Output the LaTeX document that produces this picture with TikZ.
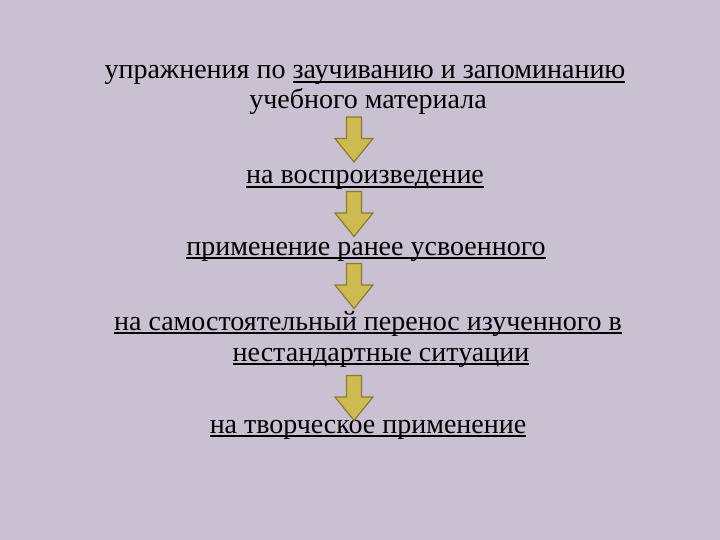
\documentclass[tikz,border=0pt]{standalone}
\usepackage{fontspec}
\setmainfont{Liberation Serif}
\definecolor{bg}{RGB}{201,193,210}
\definecolor{arrowfill}{RGB}{205,187,82}
\definecolor{arrowline}{RGB}{140,124,48}
\newcommand\myul[1]{\setbox0\hbox{#1}\rlap{\rule[-4.2pt]{\wd0}{1.8pt}}\box0}
\tikzset{
  txt/.style={anchor=base, font=\fontsize{28}{30}\selectfont, inner sep=0pt, align=center},
  blockarrow/.pic={\draw[fill=arrowfill, draw=arrowline, line width=1.2pt, line join=miter]
    (-7.5,-22.5) -- (7.5,-22.5) -- (7.5,-1) -- (19,-1) -- (0,22.5) -- (-19,-1) -- (-7.5,-1) -- cycle;}
}
\begin{document}
\begin{tikzpicture}[x=1pt,y=-1pt]
\fill[bg] (0,0) rectangle (720,540);
\useasboundingbox (0,0) rectangle (720,540);
\node[txt] (t1) at (365,79) {упражнения по \myul{заучиванию и запоминанию}};
\node[txt] (t2) at (368,109) {учебного материала};
\node[txt] (t3) at (365,184) {\myul{на воспроизведение}};
\node[txt] (t4) at (366,255) {\myul{применение ранее усвоенного}};
\node[txt] (t5) at (368,330) {\myul{на самостоятельный перенос изученного в}};
\node[txt] (t6) at (381,361) {\myul{нестандартные ситуации}};
\node[txt] (t7) at (368,433) {\myul{на творческое применение}};
\pic (a1) at (354,139.5) {blockarrow};
\pic (a2) at (354,214) {blockarrow};
\pic (a3) at (354,286) {blockarrow};
\pic (a4) at (354,398) {blockarrow};
\end{tikzpicture}
\end{document}
